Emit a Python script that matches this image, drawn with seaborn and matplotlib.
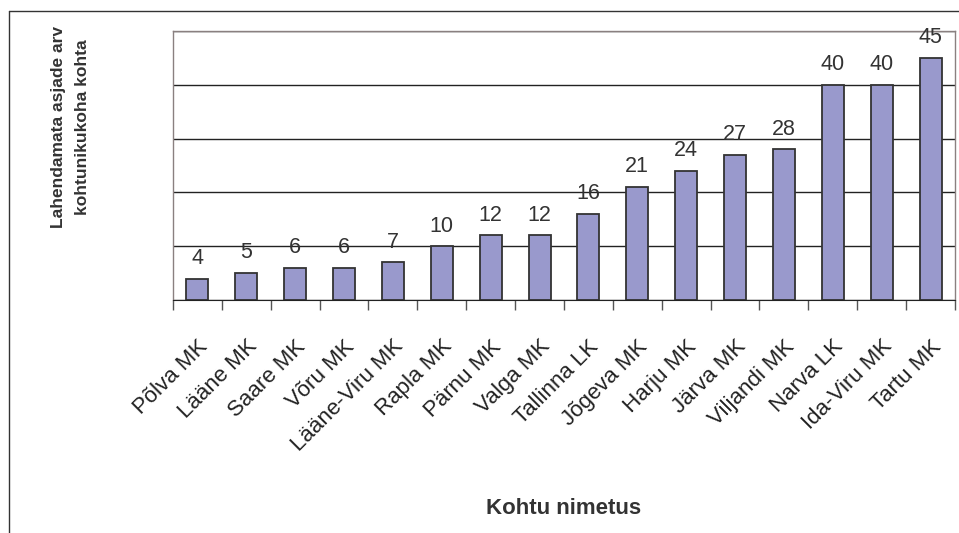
import numpy as np
import pandas as pd
import matplotlib.pyplot as plt
import matplotlib.lines as mlines
import seaborn as sns

courts = ['Põlva MK', 'Lääne MK', 'Saare MK', 'Võru MK', 'Lääne-Viru MK', 'Rapla MK',
          'Pärnu MK', 'Valga MK', 'Tallinna LK', 'Jõgeva MK', 'Harju MK', 'Järva MK',
          'Viljandi MK', 'Narva LK', 'Ida-Viru MK', 'Tartu MK']
cases = [4, 5, 6, 6, 7, 10, 12, 12, 16, 21, 24, 27, 28, 40, 40, 45]

df = pd.DataFrame({'court': courts, 'cases': cases})

sns.set_style('white')
plt.rcParams['font.family'] = ['Liberation Sans', 'DejaVu Sans']

fig = plt.figure(figsize=(9.59, 5.33), dpi=100)
ax = fig.add_axes([0.1804, 0.4371, 0.8154, 0.5047])

sns.barplot(data=df, x='court', y='cases', color='#9999CC', edgecolor='#333333',
            linewidth=1.3, width=0.45, saturation=1, ax=ax)
ax.bar_label(ax.containers[0], padding=7, fontsize=15.5, color='#333333', clip_on=False)

ax.set_ylim(0, 50)
ax.set_xlim(-0.5, len(courts) - 0.5)
ax.set_yticks(np.arange(0, 51, 10))
ax.set_yticklabels([])
ax.tick_params(axis='y', length=0)
ax.yaxis.grid(True, color='#222222', linewidth=1)
ax.set_axisbelow(True)

ax.set_xticks(np.arange(len(courts)))
ax.set_xticklabels(courts, rotation=45, ha='right', rotation_mode='anchor',
                   fontsize=16, color='#222222')
ax.tick_params(axis='x', which='major', length=0, pad=26)
ax.set_xticks(np.arange(-0.5, len(courts)), minor=True)
ax.tick_params(axis='x', which='minor', length=7, width=1, color='#555555', bottom=True)

for side in ['left', 'top', 'right']:
    ax.spines[side].set_color('#8a8080')
    ax.spines[side].set_linewidth(1)
ax.spines['bottom'].set_color('#222222')

ax.set_xlabel('Kohtu nimetus', fontsize=16, fontweight='bold', color='#333333')
ax.set_ylabel('Lahendamata asjade arv\nkohtunikukoha kohta', fontsize=12.5,
              fontweight='bold', color='#333333', linespacing=1.8)
ax.yaxis.set_label_coords(-0.106, 0.643)
ax.xaxis.set_label_coords(0.5, -0.735)

# outer frame (top and left edges)
fig.add_artist(mlines.Line2D([9 / 959, 1], [1 - 11 / 533, 1 - 11 / 533],
                             color='#333333', linewidth=1, transform=fig.transFigure))
fig.add_artist(mlines.Line2D([9 / 959, 9 / 959], [0, 1 - 11 / 533],
                             color='#333333', linewidth=1, transform=fig.transFigure))

fig.savefig('out.png', dpi=100)
